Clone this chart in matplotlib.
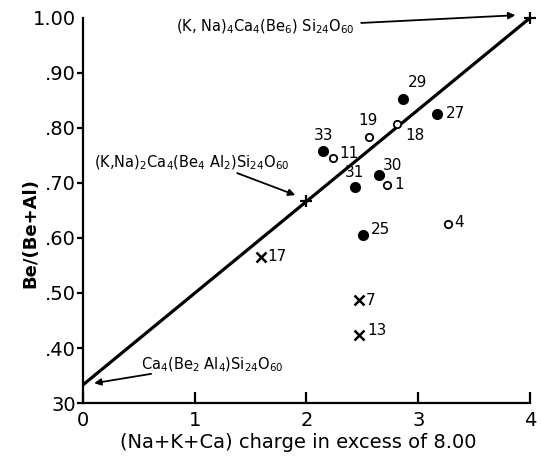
import matplotlib
matplotlib.use("Agg")
import matplotlib.pyplot as plt
from matplotlib.ticker import FixedLocator

# end members of the series (charge excess, Be/(Be+Al))
end_x = [0, 2, 4]
end_y = [0.333, 0.667, 1.00]

# samples
filled_labels = ["29", "27", "33", "30", "31", "25"]
filled_x = [2.86, 3.17, 2.15, 2.65, 2.43, 2.51]
filled_y = [0.853, 0.826, 0.759, 0.715, 0.692, 0.606]

open_labels = ["18", "19", "11", "1", "4"]
open_x = [2.81, 2.56, 2.24, 2.72, 3.27]
open_y = [0.807, 0.784, 0.746, 0.697, 0.625]

cross_labels = ["17", "7", "13"]
cross_x = [1.59, 2.47, 2.47]
cross_y = [0.566, 0.487, 0.424]

x_ticks = [0, 1, 2, 3, 4]
y_ticks = [0.30, 0.40, 0.50, 0.60, 0.70, 0.80, 0.90, 1.00]
y_ticklabels = ["30", ".40", ".50", ".60", ".70", ".80", ".90", "1.00"]

formulas = [
    r"(K, Na)$_4$Ca$_4$(Be$_6$) Si$_{24}$O$_{60}$",
    r"(K,Na)$_2$Ca$_4$(Be$_4$ Al$_2$)Si$_{24}$O$_{60}$",
    r"Ca$_4$(Be$_2$ Al$_4$)Si$_{24}$O$_{60}$",
]

# label offsets in points (dx, dy), per sample
offsets = {
    "29": (4, 12), "27": (6, 0), "33": (0, 11), "30": (3, 7), "31": (0, 11),
    "25": (5, 4), "18": (6, -8), "19": (-1, 12), "11": (4, 3), "1": (5, 0),
    "4": (4, 1), "17": (5, 0), "7": (5, 0), "13": (6, 3),
}

plt.rcParams["mathtext.fontset"] = "dejavusans"

fig = plt.figure(figsize=(5.41, 4.59), dpi=100)
ax = fig.add_axes([0.1534, 0.122, 0.8262, 0.8388])

ax.plot([end_x[0], end_x[-1]], [end_y[0], end_y[-1]], color="black", lw=2.3,
        solid_capstyle="butt", zorder=2)
ax.plot(end_x[1:], end_y[1:], "+", color="black", ms=8, mew=1.6, zorder=3,
        clip_on=False)

ax.plot(filled_x, filled_y, "o", color="black", ms=7, zorder=3)
ax.plot(open_x, open_y, "o", mfc="white", mec="black", ms=5.3, mew=1.3, zorder=3)
ax.plot(cross_x, cross_y, "x", color="black", ms=6.5, mew=1.8, zorder=3)

for labs, xs, ys in [(filled_labels, filled_x, filled_y),
                     (open_labels, open_x, open_y),
                     (cross_labels, cross_x, cross_y)]:
    for lab, xv, yv in zip(labs, xs, ys):
        dx, dy = offsets[lab]
        ha = "center" if dx <= 1 and abs(dy) > 5 else "left"
        ax.annotate(lab, (xv, yv), xytext=(dx, dy), textcoords="offset points",
                    ha=ha, va="center", fontsize=11)

arrow = dict(arrowstyle="-|>", color="black", lw=1.3, mutation_scale=10,
             shrinkA=0, shrinkB=0)
ax.annotate(formulas[0], xy=(0.83, 0.984), ha="left", va="center",
            fontsize=10.5, annotation_clip=False)
ax.annotate("", xy=(3.87, 1.005), xytext=(2.49, 0.991), arrowprops=arrow,
            annotation_clip=False)
ax.annotate(formulas[1], xy=(0.10, 0.736), ha="left", va="center", fontsize=10.5)
ax.annotate("", xy=(1.90, 0.678), xytext=(1.38, 0.718), arrowprops=arrow)
ax.annotate(formulas[2], xy=(0.52, 0.369), ha="left", va="center", fontsize=10.5)
ax.annotate("", xy=(0.10, 0.336), xytext=(0.61, 0.353), arrowprops=arrow)

ax.set_xlim(0, 4)
ax.set_ylim(0.30, 1.00)
for s in ["top", "right"]:
    ax.spines[s].set_visible(False)
for s in ["left", "bottom"]:
    ax.spines[s].set_linewidth(1.6)

ax.set_xticks(x_ticks)
ax.set_xticklabels([str(v) for v in x_ticks])
ax.set_yticks(y_ticks)
ax.set_yticklabels(y_ticklabels)
ax.tick_params(axis="x", direction="in", length=8, width=1.6, pad=6, labelsize=14)
ax.tick_params(axis="y", direction="out", length=4, width=1.6, pad=1, labelsize=14)
ax.yaxis.get_major_ticks()[-1].tick1line.set_visible(False)
ax.yaxis.set_minor_locator(FixedLocator([1.00]))
ax.tick_params(axis="y", which="minor", direction="in", length=8, width=1.6)

fig.text(298 / 541, 1 - 442 / 459, "(Na+K+Ca) charge in excess of 8.00",
         ha="center", va="center", fontsize=14)
fig.text(30 / 541, 1 - 233 / 459, "Be/(Be+Al)", rotation=90,
         ha="center", va="center", fontsize=13, fontweight="bold")

fig.savefig("out.png", dpi=100)
plt.close(fig)
